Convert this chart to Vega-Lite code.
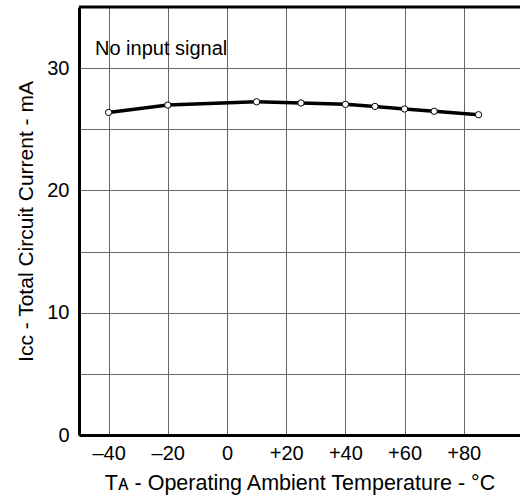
{
  "$schema": "https://vega.github.io/schema/vega-lite/v6.json",
  "autosize": {"type": "none"},
  "padding": {"left": 79, "top": 7, "right": 0, "bottom": 65},
  "width": 441,
  "height": 428,
  "background": "white",
  "config": {
    "view": {"stroke": null},
    "font": "Liberation Sans",
    "axis": {"labelFont": "Liberation Sans", "titleFont": "Liberation Sans", "labelColor": "black", "titleColor": "black", "titleFontWeight": "normal"}
  },
  "data": {
    "values": [
      {"temp": -40, "icc": 26.38},
      {"temp": -20, "icc": 26.98},
      {"temp": 10, "icc": 27.25},
      {"temp": 25, "icc": 27.15},
      {"temp": 40, "icc": 27.04},
      {"temp": 50, "icc": 26.87},
      {"temp": 60, "icc": 26.66},
      {"temp": 70, "icc": 26.47},
      {"temp": 85, "icc": 26.19}
    ]
  },
  "layer": [
    {
      "mark": {"type": "line", "color": "black", "strokeWidth": 3.5},
      "encoding": {
        "x": {
          "field": "temp", "type": "quantitative",
          "scale": {"domain": [-50, 99], "nice": false, "zero": false},
          "axis": {
            "values": [-40, -20, 0, 20, 40, 60, 80],
            "labelExpr": "datum.value < 0 ? '–' + abs(datum.value) : (datum.value > 0 ? '+' + datum.value : '0')",
            "title": "Tᴀ - Operating Ambient Temperature - °C",
            "titleFontSize": 21.5, "labelFontSize": 20,
            "ticks": false, "labelPadding": 8, "titlePadding": 9,
            "domainColor": "black", "domainWidth": 3,
            "grid": true, "gridColor": "#666", "gridWidth": 1, "gridOpacity": 1
          }
        },
        "y": {
          "field": "icc", "type": "quantitative",
          "scale": {"domain": [0, 35], "nice": false},
          "axis": {
            "values": [0, 5, 10, 15, 20, 25, 30, 35],
            "labelExpr": "datum.value % 10 === 0 ? datum.label : ''",
            "title": "Iᴄᴄ - Total Circuit Current - mA",
            "titleFontSize": 21, "labelFontSize": 20,
            "ticks": false, "labelPadding": 10, "titlePadding": 10,
            "domainColor": "black", "domainWidth": 3,
            "grid": true, "gridColor": "#666", "gridWidth": 1, "gridOpacity": 1
          }
        }
      }
    },
    {
      "mark": {"type": "point", "shape": "circle", "filled": true, "fill": "white", "stroke": "black", "strokeWidth": 1, "size": 40, "opacity": 1},
      "encoding": {
        "x": {"field": "temp", "type": "quantitative"},
        "y": {"field": "icc", "type": "quantitative"}
      }
    },
    {
      "data": {"values": [{"edge": 35}]},
      "mark": {"type": "rule", "color": "black", "strokeWidth": 3},
      "encoding": {"y": {"field": "edge", "type": "quantitative"}}
    },
    {
      "data": {"values": [{"note": "No input signal"}]},
      "mark": {"type": "text", "align": "left", "baseline": "alphabetic", "fontSize": 20, "fontWeight": "normal", "fill": "black", "font": "Liberation Sans"},
      "encoding": {"x": {"datum": -44.6}, "y": {"datum": 31.1}, "text": {"field": "note"}}
    }
  ]
}
